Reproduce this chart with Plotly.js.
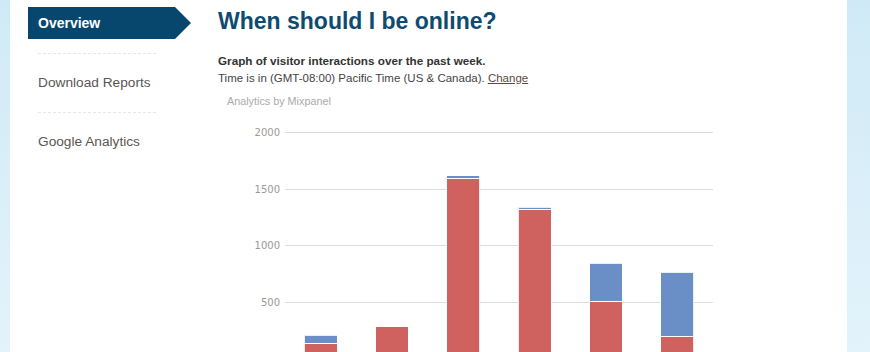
<!DOCTYPE html>
<html>
<head>
<meta charset="utf-8">
<script src="https://cdn.plot.ly/plotly-3.0.1.min.js"></script>
<style>
  html, body { margin:0; padding:0; width:870px; height:352px; overflow:hidden; background:#d6eef9; }
  #page { position:absolute; left:0; top:0; width:870px; height:352px; overflow:hidden;
          background:linear-gradient(to bottom,#cfeaf6,#e3f3fb); }
  #panel { position:absolute; left:10px; top:0; width:837px; height:352px; background:#fff; }
  #tab { position:absolute; left:28px; top:7px; width:163px; height:32px; }
  .nav { position:absolute; left:38px; font:13.7px "Liberation Sans", Arial, sans-serif; color:#5b5552; }
  .sep { position:absolute; left:38px; width:118px; height:0; border-top:1px dashed #e6e6e6; }
  #title { position:absolute; left:218px; top:8px; font:bold 23px "Liberation Sans", Arial, sans-serif; color:#0f4a6f; white-space:nowrap; }
  #sub1 { position:absolute; left:218px; top:54px; font:bold 11.7px "Liberation Sans", Arial, sans-serif; color:#333; white-space:nowrap; }
  #sub2 { position:absolute; left:218px; top:72px; font:11.5px "Liberation Sans", Arial, sans-serif; color:#444; white-space:nowrap; }
  #sub2 a { color:#5b4a40; text-decoration:underline; }
  #credit { position:absolute; left:227px; top:95px; font:10.8px "Liberation Sans", Arial, sans-serif; color:#aaa; white-space:nowrap; }
  #chart { position:absolute; left:0; top:0; width:870px; height:380px; }
</style>
</head>
<body>
<div id="page">
  <div id="panel"></div>
  <svg id="tab" viewBox="0 0 163 32"><polygon points="0,0 147,0 163,16 147,32 0,32" fill="#08476d"/></svg>
  <div style="position:absolute;left:38px;top:15px;font:bold 14px 'Liberation Sans',Arial,sans-serif;color:#fff;">Overview</div>
  <div class="sep" style="top:53px"></div>
  <div class="nav" style="top:75px">Download Reports</div>
  <div class="sep" style="top:112px"></div>
  <div class="nav" style="top:134px">Google Analytics</div>
  <div id="title">When should I be online?</div>
  <div id="sub1">Graph of visitor interactions over the past week.</div>
  <div id="sub2">Time is in (GMT-08:00) Pacific Time (US &amp; Canada). <a>Change</a></div>
  <div id="credit">Analytics by Mixpanel</div>
  <div id="chart"></div>
</div>
<script>
// Data
const categories = ["12am", "4am", "8am", "12pm", "4pm", "8pm"];
const redValues  = [140, 285, 1593, 1322, 511, 202];
const blueValues = [70, 0, 24, 18, 334, 563];
const yTickVals  = [500, 1000, 1500, 2000];
const yTickText  = ["500", "1000", "1500", "2000"];

const barLine = { color: "rgba(255,255,255,0.85)", width: 1 };
const traces = [
  { type: "bar", name: "Red", x: categories, y: redValues,
    marker: { color: "#cf625f", line: barLine } },
  { type: "bar", name: "Blue", x: categories, y: blueValues,
    marker: { color: "#6a8fc6", line: barLine } }
];

const layout = {
  width: 870, height: 380,
  margin: { l: 285, r: 157, t: 121.4, b: 21.2 },
  paper_bgcolor: "rgba(0,0,0,0)",
  plot_bgcolor: "rgba(0,0,0,0)",
  barmode: "stack",
  bargap: 0.54,
  showlegend: false,
  xaxis: { showticklabels: false, showgrid: false, zeroline: false, showline: false, ticks: "" },
  yaxis: { range: [0, 2100], tickvals: yTickVals, ticktext: yTickText,
           showgrid: true, gridcolor: "#dcdcdc", gridwidth: 1, zeroline: false,
           ticklabelstandoff: 4,
           tickfont: { family: "DejaVu Sans", size: 10, color: "#999" } },
  font: { family: "DejaVu Sans" }
};
Plotly.newPlot("chart", traces, layout, { displayModeBar: false, staticPlot: true });
</script>
</body>
</html>
